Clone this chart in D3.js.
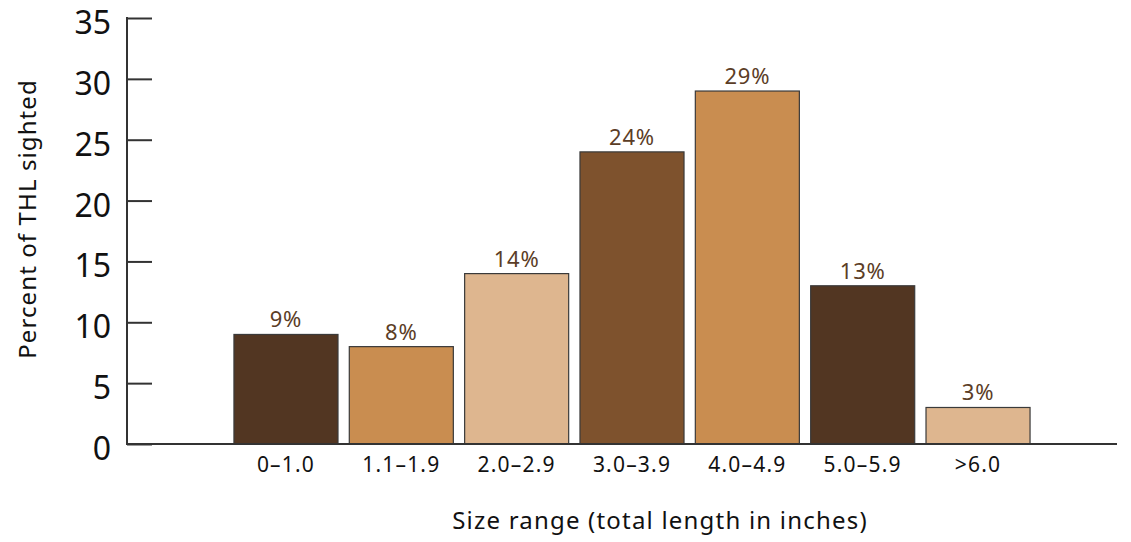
<!DOCTYPE html>
<html>
<head>
<meta charset="utf-8">
<script src="https://cdn.jsdelivr.net/npm/d3@7"></script>
<style>
  html, body { margin: 0; padding: 0; background: #fff; }
  svg { display: block; font-family: "Noto Sans", "Open Sans", sans-serif; }
</style>
</head>
<body>
<svg id="chart" width="1131" height="542"></svg>
<script>
// Size ranges (total length, inches) and share of sightings in each
const categories = ["0\u20131.0", "1.1\u20131.9", "2.0\u20132.9", "3.0\u20133.9", "4.0\u20134.9", "5.0\u20135.9", ">6.0"];
const percents = [9, 8, 14, 24, 29, 13, 3];
const barColors = ["#523622", "#c98d50", "#deb68f", "#7e522d", "#c98d50", "#523622", "#deb68f"];
const yTicks = [0, 5, 10, 15, 20, 25, 30, 35];

const svg = d3.select("#chart");

const x = d3.scaleBand()
  .domain(categories)
  .range([228.3, 1035.7])
  .paddingInner(0.098)
  .paddingOuter(0.049);

const y = d3.scaleLinear().domain([0, 35]).range([444, 18]);

const axisX0 = 127;
const axisColor = "#333";

// Bars
svg.append("g").selectAll("rect")
  .data(percents)
  .join("rect")
  .attr("x", (d, i) => x(categories[i]))
  .attr("y", d => y(d))
  .attr("width", x.bandwidth())
  .attr("height", d => y(0) - y(d))
  .attr("fill", (d, i) => barColors[i])
  .attr("stroke", "#3a3a3a")
  .attr("stroke-width", 1.2);

// Value labels above bars
svg.append("g").selectAll("text")
  .data(percents)
  .join("text")
  .attr("x", (d, i) => x(categories[i]) + x.bandwidth() / 2)
  .attr("y", d => y(d) - 7)
  .attr("text-anchor", "middle")
  .attr("font-size", 22)
  .attr("letter-spacing", 0.8)
  .attr("fill", "#5b3d26")
  .text(d => d + "%");

// Y axis: ticks point inward, labels on the left
const yAxis = d3.axisRight(y).tickValues(yTicks).tickSize(25).tickFormat("");
const gy = svg.append("g").attr("transform", `translate(${axisX0},0)`).call(yAxis);
gy.select(".domain").remove();
gy.selectAll(".tick line").attr("stroke", axisColor).attr("stroke-width", 2);

svg.append("line")
  .attr("x1", axisX0).attr("x2", axisX0)
  .attr("y1", y(35) - 1).attr("y2", y(0))
  .attr("stroke", axisColor).attr("stroke-width", 2);

svg.append("g").selectAll("text")
  .data(yTicks)
  .join("text")
  .attr("x", 111)
  .attr("y", d => y(d) + 16)
  .attr("text-anchor", "end")
  .attr("font-size", 32)
  .attr("fill", "#111")
  .text(d => d);

// X axis baseline
svg.append("line")
  .attr("x1", axisX0 - 1).attr("x2", 1117)
  .attr("y1", y(0)).attr("y2", y(0))
  .attr("stroke", axisColor).attr("stroke-width", 2);

// Category labels
const xAxis = d3.axisBottom(x).tickSize(0).tickPadding(0);
const gx = svg.append("g").attr("transform", `translate(0,${y(0)})`).call(xAxis);
gx.select(".domain").remove();
gx.selectAll(".tick text")
  .attr("font-size", 21)
  .attr("letter-spacing", 1.2)
  .attr("font-family", "'Noto Sans', 'Open Sans', sans-serif")
  .attr("fill", "#111")
  .attr("dy", null)
  .attr("y", 28);

// Axis titles
svg.append("text")
  .attr("x", 660).attr("y", 529)
  .attr("text-anchor", "middle")
  .attr("font-size", 24)
  .attr("letter-spacing", 1.2)
  .attr("fill", "#111")
  .text("Size range (total length in inches)");

svg.append("text")
  .attr("transform", "translate(36,219) rotate(-90)")
  .attr("text-anchor", "middle")
  .attr("font-size", 24)
  .attr("letter-spacing", 1.1)
  .attr("fill", "#111")
  .text("Percent of THL sighted");
</script>
</body>
</html>
